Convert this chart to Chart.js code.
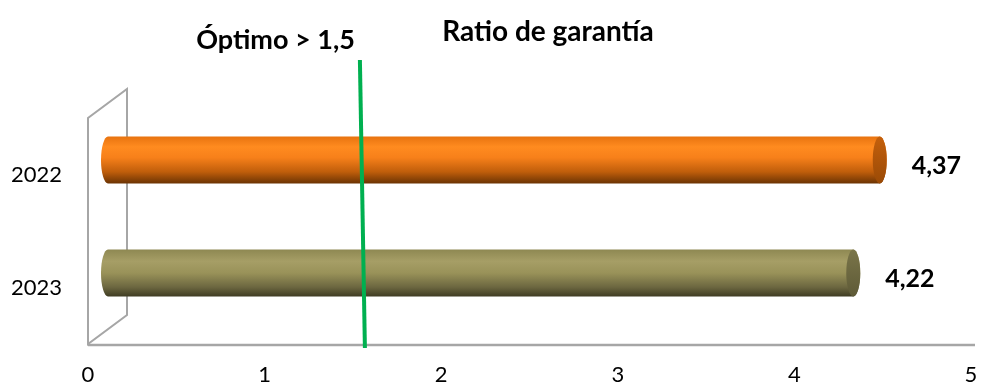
<!DOCTYPE html>
<html>
<head>
<meta charset="utf-8">
<script src="https://cdn.jsdelivr.net/npm/chart.js@4/dist/chart.umd.min.js"></script>
<style>
  html, body { margin: 0; padding: 0; background: #ffffff; }
  #wrap { width: 981px; height: 387px; }
</style>
</head>
<body>
<div id="wrap"><canvas id="c" width="981" height="387"></canvas></div>
<script>
// Data
const categories = ['2022', '2023'];
const ratios = [4.37, 4.22];
const valueLabels = ['4,37', '4,22'];
const xTickValues = [0, 1, 2, 3, 4, 5];
const optimo = 1.5;
const optimoLabel = 'Óptimo > 1,5';
const chartTitle = 'Ratio de garantía';

// Styling
const FONT = 'Lato, "Open Sans", sans-serif';
const DEPTH = { x: 39, y: -29 };          // 3D wall depth
const BAR_SHIFT = { x: 20, y: -14.5 };    // bars sit in the middle of the depth
const CAP_RX = 7;                          // horizontal radius of cylinder ends
const palettes = [
  { stops: [[0, '#E8730F'], [0.22, '#FF8B1F'], [0.45, '#F7801A'], [0.75, '#C05E0B'], [1, '#6B3303']],
    cap: ['#C4600C', '#9A4A06'] },
  { stops: [[0, '#8E8852'], [0.25, '#A69E66'], [0.5, '#999259'], [0.8, '#6C6740'], [1, '#3F3C23']],
    cap: ['#7A7549', '#5E5A37'] }
];

const frame3d = {
  id: 'frame3d',
  beforeDatasetsDraw(chart) {
    const { ctx, chartArea: a } = chart;
    ctx.save();
    ctx.strokeStyle = '#A6A6A6';
    ctx.lineWidth = 2;
    ctx.beginPath();
    // side wall
    ctx.moveTo(a.left, a.top);
    ctx.lineTo(a.left, a.bottom);
    ctx.lineTo(a.left + DEPTH.x, a.bottom + DEPTH.y);
    ctx.lineTo(a.left + DEPTH.x, a.top + DEPTH.y);
    ctx.closePath();
    ctx.stroke();
    // floor edge
    ctx.lineWidth = 2.5;
    ctx.beginPath();
    ctx.moveTo(a.left, a.bottom + 1);
    ctx.lineTo(a.right + 4, a.bottom + 1);
    ctx.stroke();
    ctx.restore();
  }
};

const cylinders = {
  id: 'cylinders',
  afterDatasetsDraw(chart) {
    const { ctx, chartArea: a } = chart;
    const xs = chart.scales.x;
    const meta = chart.getDatasetMeta(0);
    ctx.save();
    meta.data.forEach((el, i) => {
      const p = el.getProps(['x', 'y', 'base', 'height'], true);
      const xb = p.base + BAR_SHIFT.x;
      const xe = p.x + BAR_SHIFT.x;
      const cy = p.y + BAR_SHIFT.y;
      const ry = p.height / 2;
      const pal = palettes[i % palettes.length];
      const g = ctx.createLinearGradient(0, cy - ry, 0, cy + ry);
      pal.stops.forEach(s => g.addColorStop(s[0], s[1]));
      ctx.beginPath();
      ctx.moveTo(xb, cy - ry);
      ctx.lineTo(xe, cy - ry);
      ctx.ellipse(xe, cy, CAP_RX, ry, 0, -Math.PI / 2, Math.PI / 2);
      ctx.lineTo(xb, cy + ry);
      ctx.ellipse(xb, cy, CAP_RX, ry, 0, Math.PI / 2, Math.PI * 1.5);
      ctx.closePath();
      ctx.fillStyle = g;
      ctx.fill();
      // end cap
      const cg = ctx.createLinearGradient(0, cy - ry, 0, cy + ry);
      cg.addColorStop(0, pal.cap[0]);
      cg.addColorStop(1, pal.cap[1]);
      ctx.beginPath();
      ctx.ellipse(xe, cy, CAP_RX, ry, 0, 0, Math.PI * 2);
      ctx.fillStyle = cg;
      ctx.fill();
      // value label
      ctx.fillStyle = '#000000';
      ctx.font = 'bold 25px ' + FONT;
      ctx.textAlign = 'left';
      ctx.textBaseline = 'middle';
      ctx.fillText(valueLabels[i], xe + CAP_RX + 25, p.y - 9);
    });

    // optimum marker
    const xo = xs.getPixelForValue(optimo);
    ctx.strokeStyle = '#00B050';
    ctx.lineWidth = 4;
    ctx.beginPath();
    ctx.moveTo(xo + 7, 60);
    ctx.lineTo(xo + 12, a.bottom + 4);
    ctx.stroke();
    ctx.fillStyle = '#000000';
    ctx.font = 'bold 27px ' + FONT;
    ctx.textAlign = 'right';
    ctx.textBaseline = 'alphabetic';
    ctx.fillText(optimoLabel, xo + 2, 49);

    // title
    ctx.font = 'bold 28px ' + FONT;
    ctx.textAlign = 'center';
    ctx.fillText(chartTitle, 548, 41);
    ctx.restore();
  }
};

new Chart(document.getElementById('c'), {
  type: 'bar',
  data: {
    labels: categories,
    datasets: [{
      data: ratios,
      backgroundColor: 'rgba(0,0,0,0)',
      borderWidth: 0,
      barThickness: 47
    }]
  },
  options: {
    indexAxis: 'y',
    responsive: false,
    animation: false,
    events: [],
    layout: { padding: { top: 118, right: 10, left: 0, bottom: 0 } },
    plugins: { legend: { display: false }, tooltip: { enabled: false }, title: { display: false } },
    scales: {
      x: {
        type: 'linear',
        min: 0,
        max: 5,
        afterBuildTicks: s => { s.ticks = xTickValues.map(v => ({ value: v })); },
        afterFit: s => { s.height = 43; s.paddingLeft = 0; s.paddingRight = 0; },
        grid: { display: false, drawTicks: false },
        border: { display: false },
        ticks: { color: '#000000', padding: 18, maxRotation: 0, font: { family: FONT, size: 22 } }
      },
      y: {
        afterFit: s => { s.width = 88; s.paddingTop = 0; s.paddingBottom = 0; },
        grid: { display: false, drawTicks: false },
        border: { display: false },
        ticks: { color: '#000000', padding: 26, font: { family: FONT, size: 22 } }
      }
    }
  },
  plugins: [frame3d, cylinders]
});
</script>
</body>
</html>
